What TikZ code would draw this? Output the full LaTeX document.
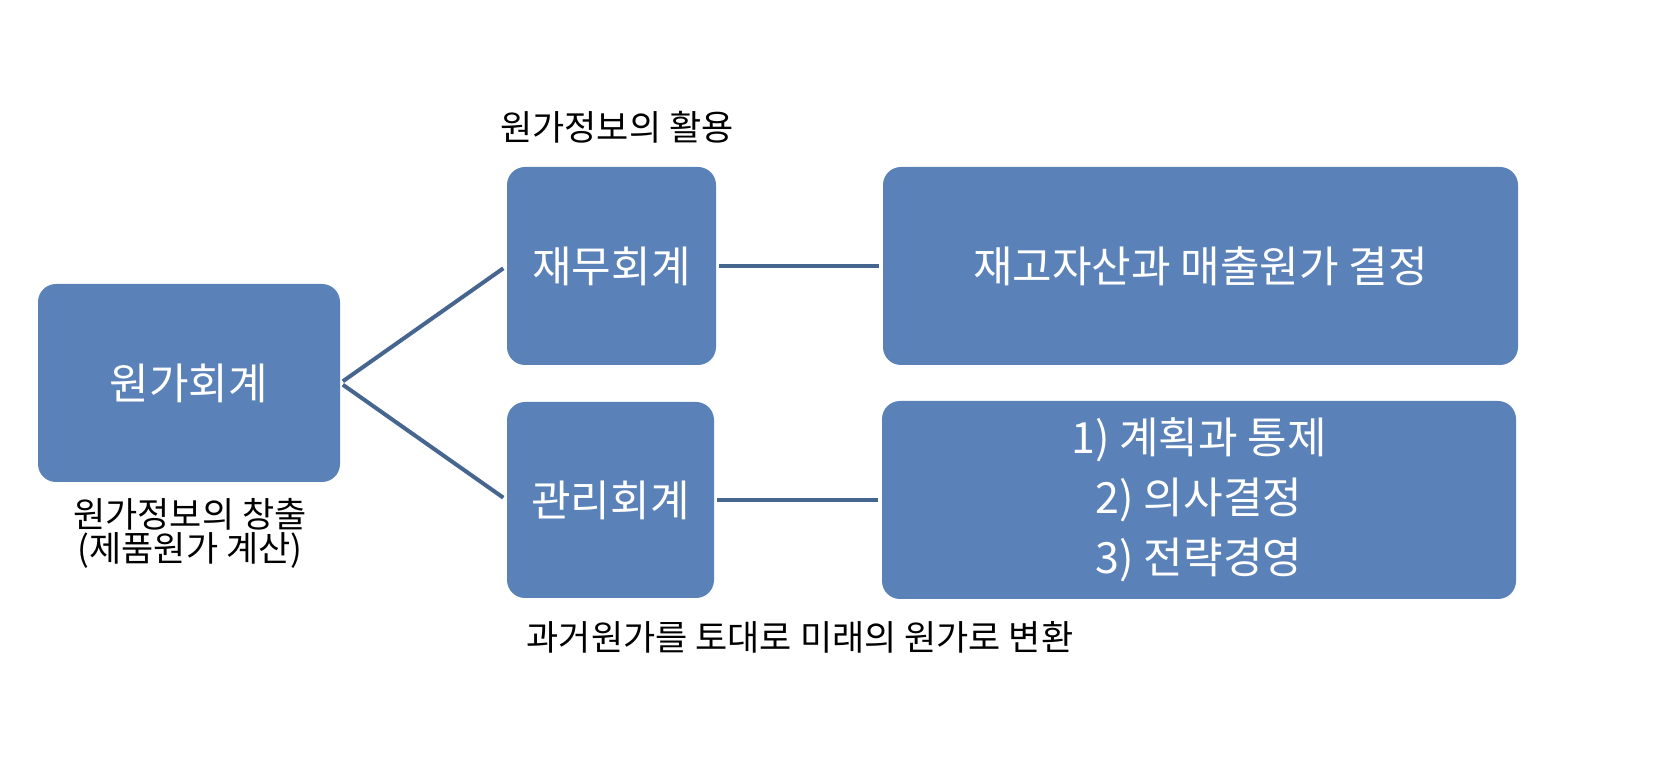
\documentclass[tikz,border=0pt]{standalone}
\usepackage{fontspec}
\setmainfont{Noto Sans CJK KR}
\definecolor{boxblue}{HTML}{5B82B8}
\definecolor{lineblue}{HTML}{46668F}
\begin{document}
\begin{tikzpicture}[x=0.5pt,y=-0.5pt,
  box/.style={draw=none,fill=boxblue,rounded corners=9pt,text=white,align=center,
    font=\fontsize{21.5}{30}\selectfont,inner sep=0pt},
  lbl/.style={align=center,font=\fontsize{17.5}{17}\selectfont},
  link/.style={draw=lineblue,line width=2pt,shorten <=1.5pt,shorten >=2pt}]
\useasboundingbox (0,0) rectangle (1656,780);
% boxes
\node[box,minimum width=151pt,minimum height=99pt] (cost) at (189,383) {원가회계};
\node[box,minimum width=104.5pt,minimum height=99pt] (fin) at (611.5,266) {재무회계};
\node[box,minimum width=103.5pt,minimum height=98pt] (mgmt) at (610.5,500) {관리회계};
\node[box,minimum width=317.5pt,minimum height=99pt] (inv) at (1200.5,266) {재고자산과 매출원가 결정};
\node[box,minimum width=317pt,minimum height=99pt] (plan) at (1199,500) {1) 계획과 통제\\2) 의사결정\\3) 전략경영};
% connectors
\draw[link] (cost.east) -- (fin.west);
\draw[link] (cost.east) -- (mgmt.west);
\draw[link] (fin.east) -- (inv.west);
\draw[link] (mgmt.east) -- (plan.west);
% labels
\node[lbl] (use) at (617,127) {원가정보의 활용};
\node[lbl] (make) at (190,533) {원가정보의 창출\\(제품원가 계산)};
\node[lbl] (conv) at (800,637) {과거원가를 토대로 미래의 원가로 변환};
\end{tikzpicture}
\end{document}
